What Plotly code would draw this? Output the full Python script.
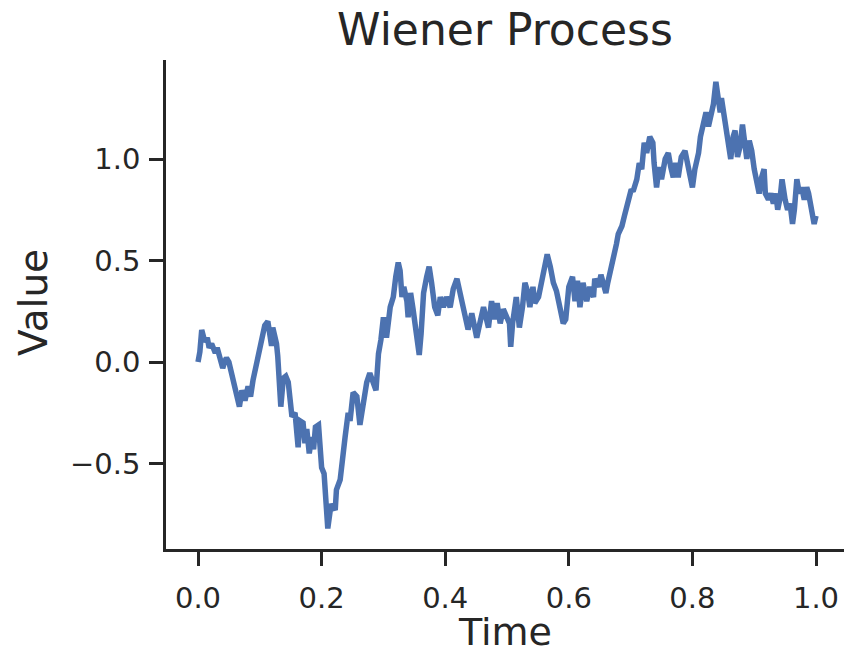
import plotly.graph_objects as go

# Time values
time_vals = [
    0.000, 0.003, 0.006, 0.008, 0.011, 0.015, 0.018, 0.022, 0.025, 0.028,
    0.031, 0.036, 0.040, 0.043, 0.046, 0.050, 0.055, 0.060, 0.063, 0.067,
    0.071, 0.076, 0.081, 0.085, 0.089, 0.095, 0.098, 0.103, 0.108, 0.113,
    0.116, 0.119, 0.121, 0.124, 0.127, 0.129, 0.131, 0.134, 0.138, 0.142,
    0.146, 0.149, 0.152, 0.157, 0.160, 0.162, 0.165, 0.170, 0.173, 0.176,
    0.180, 0.184, 0.187, 0.190, 0.195, 0.197, 0.200, 0.204, 0.207, 0.210,
    0.214, 0.216, 0.222, 0.224, 0.230, 0.233, 0.238, 0.243, 0.246, 0.251,
    0.257, 0.262, 0.268, 0.273, 0.278, 0.284, 0.288, 0.292, 0.296, 0.300,
    0.305, 0.311, 0.316, 0.320, 0.324, 0.327, 0.330, 0.333, 0.338, 0.340,
    0.344, 0.348, 0.351, 0.355, 0.358, 0.361, 0.365, 0.370, 0.374, 0.378,
    0.383, 0.388, 0.392, 0.397, 0.402, 0.408, 0.413, 0.419, 0.422, 0.427,
    0.432, 0.437, 0.443, 0.447, 0.451, 0.456, 0.462, 0.466, 0.470, 0.475,
    0.480, 0.484, 0.489, 0.494, 0.500, 0.504, 0.506, 0.509, 0.515, 0.520,
    0.525, 0.529, 0.533, 0.537, 0.542, 0.545, 0.551, 0.556, 0.561, 0.565,
    0.570, 0.575, 0.580, 0.586, 0.591, 0.595, 0.600, 0.606, 0.610, 0.614,
    0.618, 0.623, 0.629, 0.634, 0.640, 0.642, 0.648, 0.652, 0.656, 0.660,
    0.663, 0.667, 0.670, 0.674, 0.677, 0.680, 0.686, 0.690, 0.694, 0.697,
    0.701, 0.704, 0.710, 0.714, 0.718, 0.722, 0.726, 0.731, 0.736, 0.738,
    0.742, 0.746, 0.750, 0.756, 0.761, 0.765, 0.769, 0.773, 0.777, 0.782,
    0.788, 0.792, 0.796, 0.800, 0.804, 0.810, 0.813, 0.818, 0.822, 0.826,
    0.830, 0.834, 0.838, 0.842, 0.845, 0.847, 0.850, 0.853, 0.855, 0.858,
    0.862, 0.866, 0.869, 0.873, 0.877, 0.881, 0.885, 0.888, 0.892, 0.896,
    0.900, 0.904, 0.908, 0.912, 0.916, 0.918, 0.923, 0.927, 0.931, 0.935,
    0.938, 0.942, 0.945, 0.950, 0.954, 0.958, 0.962, 0.965, 0.969, 0.973,
    0.977, 0.981, 0.985, 0.988, 0.992, 0.997, 1.000,
]

# Process values
value_vals = [
    0.00, 0.05, 0.158, 0.12, 0.10, 0.12, 0.07, 0.09, 0.06, 0.045,
    0.07, 0.00, -0.03, 0.00, 0.02, 0.00, -0.07, -0.14, -0.18, -0.22,
    -0.14, -0.19, -0.12, -0.17, -0.09, 0.00, 0.03, 0.09, 0.18, 0.20,
    0.13, 0.08, 0.17, 0.14, 0.09, 0.03, -0.12, -0.22, -0.08, -0.07,
    -0.10, -0.22, -0.27, -0.25, -0.37, -0.42, -0.29, -0.30, -0.40, -0.33,
    -0.45, -0.37, -0.43, -0.32, -0.31, -0.38, -0.52, -0.55, -0.66, -0.82,
    -0.73, -0.70, -0.73, -0.63, -0.58, -0.48, -0.37, -0.25, -0.29, -0.15,
    -0.17, -0.31, -0.17, -0.10, -0.055, -0.12, -0.14, 0.04, 0.11, 0.22,
    0.12, 0.27, 0.32, 0.42, 0.49, 0.45, 0.32, 0.37, 0.30, 0.22,
    0.34, 0.26, 0.19, 0.14, 0.035, 0.14, 0.34, 0.42, 0.47, 0.39,
    0.27, 0.23, 0.32, 0.27, 0.32, 0.27, 0.36, 0.41, 0.37, 0.30,
    0.22, 0.16, 0.24, 0.19, 0.12, 0.19, 0.27, 0.22, 0.17, 0.30,
    0.21, 0.29, 0.19, 0.26, 0.22, 0.19, 0.075, 0.19, 0.32, 0.17,
    0.27, 0.39, 0.35, 0.27, 0.37, 0.29, 0.32, 0.40, 0.50, 0.53,
    0.47, 0.39, 0.35, 0.27, 0.19, 0.21, 0.37, 0.42, 0.30, 0.40,
    0.27, 0.39, 0.30, 0.37, 0.32, 0.41, 0.37, 0.43, 0.39, 0.34,
    0.39, 0.44, 0.47, 0.53, 0.58, 0.63, 0.67, 0.72, 0.77, 0.81,
    0.85, 0.84, 0.90, 0.98, 0.95, 1.08, 1.03, 1.11, 1.08, 0.98,
    0.86, 0.96, 0.90, 1.00, 1.03, 0.96, 0.91, 0.98, 0.91, 1.01,
    1.04, 0.98, 0.93, 0.86, 0.95, 1.03, 1.11, 1.19, 1.23, 1.16,
    1.21, 1.27, 1.38, 1.30, 1.23, 1.30, 1.24, 1.16, 1.11, 1.06,
    1.00, 1.11, 1.14, 1.01, 1.06, 1.17, 1.08, 1.00, 1.09, 1.04,
    0.95, 0.88, 0.83, 0.91, 0.95, 0.83, 0.80, 0.83, 0.78, 0.83,
    0.75, 0.81, 0.90, 0.80, 0.75, 0.78, 0.68, 0.75, 0.90, 0.83,
    0.86, 0.80, 0.86, 0.83, 0.75, 0.68, 0.72,
]

x_ticks = [0.0, 0.2, 0.4, 0.6, 0.8, 1.0]
x_tick_text = ["0.0", "0.2", "0.4", "0.6", "0.8", "1.0"]
y_ticks = [-0.5, 0.0, 0.5, 1.0]
y_tick_text = ["\u22120.5", "0.0", "0.5", "1.0"]

INK = "#262626"
FONT = "DejaVu Sans"

fig = go.Figure()
fig.add_trace(go.Scatter(
    x=time_vals, y=value_vals, mode="lines",
    line=dict(color="#4C72B0", width=5.5),
    showlegend=False, hoverinfo="skip",
))

fig.update_layout(
    width=844, height=655,
    margin=dict(l=166, r=0, t=60, b=106),
    paper_bgcolor="white", plot_bgcolor="white",
    font=dict(family=FONT, color=INK),
    title=dict(text="Wiener Process", x=0.5, xref="paper", xanchor="center",
               y=1 - 30 / 655, yref="container", yanchor="middle",
               font=dict(size=44, family=FONT, color=INK)),
)

fig.update_xaxes(
    range=[-0.0518, 1.0453], tickvals=x_ticks, ticktext=x_tick_text,
    showgrid=False, zeroline=False,
    showline=True, linecolor=INK, linewidth=2.5,
    ticks="outside", ticklen=14, tickwidth=2.5, tickcolor=INK,
    ticklabelstandoff=7,
    tickfont=dict(size=29, family=FONT, color=INK),
)
fig.update_yaxes(
    range=[-0.9212, 1.4877], tickvals=y_ticks, ticktext=y_tick_text,
    showgrid=False, zeroline=False,
    showline=True, linecolor=INK, linewidth=2.5,
    ticks="outside", ticklen=14, tickwidth=2.5, tickcolor=INK,
    ticklabelstandoff=3,
    tickfont=dict(size=29, family=FONT, color=INK),
)

fig.add_annotation(text="Time", xref="paper", yref="paper",
                   x=(505 - 166) / 678, y=(549 - 632) / 489,
                   xanchor="center", yanchor="middle", showarrow=False,
                   font=dict(size=38, family=FONT, color=INK))
fig.add_annotation(text="Value", xref="paper", yref="paper",
                   x=(33 - 166) / 678, y=(549 - 303) / 489,
                   xanchor="center", yanchor="middle", showarrow=False,
                   textangle=-90,
                   font=dict(size=39, family=FONT, color=INK))

fig.write_html(
    "out.html",
    config={"displayModeBar": False},
    post_script="document.body.style.margin='0';document.body.style.overflow='hidden';",
)
